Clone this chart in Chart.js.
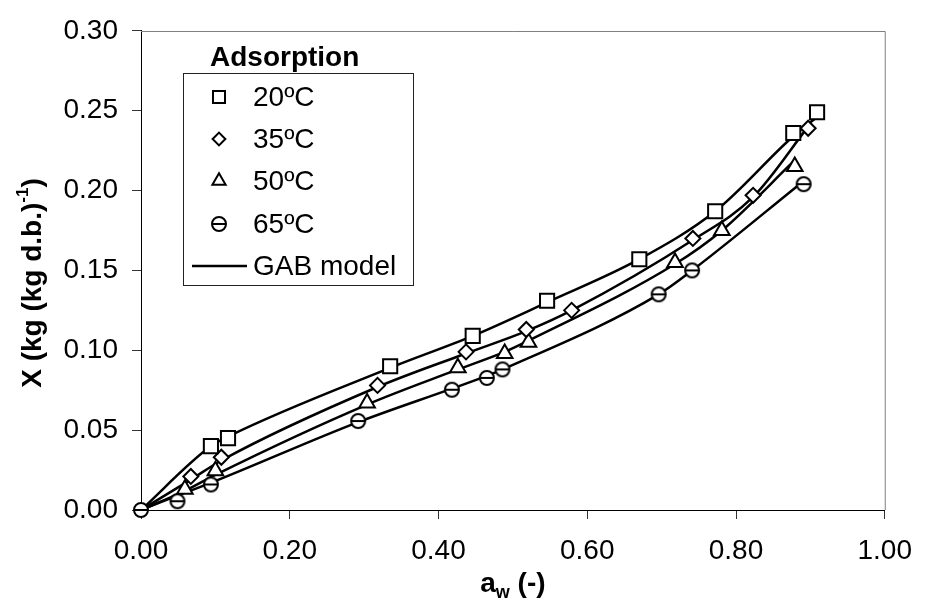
<!DOCTYPE html>
<html>
<head>
<meta charset="utf-8">
<script src="https://cdn.jsdelivr.net/npm/chart.js@4.4.1/dist/chart.umd.min.js"></script>
<style>
  body { margin: 0; background: #fff; }
  canvas { display: block; }
</style>
</head>
<body>
<canvas id="isoChart" width="927" height="607"></canvas>
<script>
// measured points (a_w, X)
var aw20 = [0.094, 0.117, 0.335, 0.446, 0.546, 0.670, 0.772, 0.877, 0.909];
var x20  = [0.040, 0.045, 0.090, 0.109, 0.131, 0.157, 0.187, 0.236, 0.249];
var aw35 = [0.067, 0.108, 0.318, 0.437, 0.518, 0.579, 0.742, 0.823, 0.897];
var x35  = [0.021, 0.033, 0.078, 0.099, 0.113, 0.125, 0.170, 0.197, 0.239];
var aw50 = [0.059, 0.100, 0.304, 0.426, 0.489, 0.521, 0.718, 0.781, 0.879];
var x50  = [0.013, 0.0245, 0.067, 0.089, 0.098, 0.105, 0.155, 0.175, 0.215];
var aw65 = [0, 0.049, 0.094, 0.292, 0.418, 0.465, 0.486, 0.696, 0.741, 0.891];
var x65  = [0, 0.0055, 0.016, 0.0557, 0.0753, 0.0827, 0.088, 0.135, 0.150, 0.204];

// GAB model curves
var gabAw20 = [0, 0.094, 0.117, 0.335, 0.446, 0.546, 0.670, 0.772, 0.877, 0.909];
var gabX20  = [0, 0.040, 0.046, 0.089, 0.109, 0.130, 0.157, 0.187, 0.234, 0.246];
var gabAw35 = [0, 0.067, 0.108, 0.318, 0.437, 0.518, 0.579, 0.742, 0.823, 0.897];
var gabX35  = [0, 0.019, 0.031, 0.077, 0.098, 0.112, 0.125, 0.169, 0.196, 0.240];
var gabAw50 = [0, 0.059, 0.100, 0.304, 0.426, 0.489, 0.521, 0.718, 0.781, 0.879];
var gabX50  = [0, 0.012, 0.022, 0.066, 0.088, 0.099, 0.106, 0.154, 0.175, 0.219];
var gabAw65 = [0, 0.049, 0.094, 0.292, 0.418, 0.465, 0.486, 0.696, 0.741, 0.891];
var gabX65  = [0, 0.009, 0.017, 0.055, 0.076, 0.084, 0.088, 0.135, 0.150, 0.206];

var seriesLabels = ['20ºC', '35ºC', '50ºC', '65ºC'];
var modelLabel = 'GAB model';
var legendTitle = 'Adsorption';
var xTicks = [0, 0.2, 0.4, 0.6, 0.8, 1.0];
var yTicks = [0, 0.05, 0.10, 0.15, 0.20, 0.25, 0.30];

var FONT = "'Liberation Sans', Arial, sans-serif";

function pairs(xs, ys) {
    var out = [];
    for (var i = 0; i < xs.length; i++) out.push({ x: xs[i], y: ys[i] });
    return out;
}

// circle marker with a small horizontal bar through it
function circleBar() {
    var c = document.createElement('canvas');
    c.width = 20; c.height = 20;
    var g = c.getContext('2d');
    g.fillStyle = '#fff';
    g.strokeStyle = '#000';
    g.lineWidth = 2;
    g.beginPath();
    g.arc(10, 10, 7, 0, Math.PI * 2);
    g.fill();
    g.stroke();
    g.beginPath();
    g.moveTo(4, 10);
    g.lineTo(16, 10);
    g.stroke();
    return c;
}
var circleImg = circleBar();

function markerSet(label, xs, ys, style, r) {
    return {
        label: label,
        data: pairs(xs, ys),
        showLine: false,
        clip: false,
        pointStyle: style,
        pointRadius: r,
        pointHoverRadius: r,
        pointBackgroundColor: '#fff',
        pointBorderColor: '#000',
        pointBorderWidth: 2,
        order: 1
    };
}
function modelSet(xs, ys) {
    return {
        label: modelLabel,
        data: pairs(xs, ys),
        showLine: true,
        pointRadius: 0,
        borderColor: '#000',
        borderWidth: 2.5,
        cubicInterpolationMode: 'monotone',
        fill: false,
        order: 2
    };
}

var markers = [
    markerSet(seriesLabels[0], aw20, x20, 'rect', 10),
    markerSet(seriesLabels[1], aw35, x35, 'rectRot', 7.5),
    markerSet(seriesLabels[2], aw50, x50, 'triangle', 9),
    markerSet(seriesLabels[3], aw65, x65, circleImg, 7)
];

// legend, borders and axis titles drawn by hand
var decor = {
    id: 'decor',
    afterDraw: function (chart) {
        var ctx = chart.ctx;
        var a = chart.chartArea;
        ctx.save();
        // top / right frame
        ctx.strokeStyle = '#808080';
        ctx.lineWidth = 1;
        ctx.beginPath();
        ctx.moveTo(a.left, Math.round(a.top) + 0.5);
        ctx.lineTo(a.right + 0.5, Math.round(a.top) + 0.5);
        ctx.lineTo(a.right + 0.5, a.bottom);
        ctx.stroke();

        // legend
        ctx.fillStyle = '#000';
        ctx.textBaseline = 'alphabetic';
        ctx.textAlign = 'left';
        ctx.font = 'bold 28px ' + FONT;
        ctx.fillText(legendTitle, 210, 66);
        ctx.strokeStyle = '#222';
        ctx.lineWidth = 1;
        ctx.fillStyle = '#fff';
        ctx.fillRect(183.5, 73.5, 230, 212);
        ctx.strokeRect(183.5, 73.5, 230, 212);

        ctx.font = '28px ' + FONT;
        ctx.textBaseline = 'middle';
        var rowY = [97, 139, 181, 224];
        for (var i = 0; i < markers.length; i++) {
            var ds = markers[i];
            ctx.fillStyle = '#fff';
            ctx.strokeStyle = '#000';
            ctx.lineWidth = 2;
            Chart.helpers.drawPoint(ctx, {
                pointStyle: ds.pointStyle,
                radius: ds.pointRadius * 0.85,
                borderWidth: 2,
                rotation: 0
            }, 219, rowY[i]);
            ctx.fillStyle = '#000';
            ctx.fillText(ds.label, 253, rowY[i] + 1);
        }
        ctx.strokeStyle = '#000';
        ctx.lineWidth = 2.5;
        ctx.beginPath();
        ctx.moveTo(192, 266);
        ctx.lineTo(247, 266);
        ctx.stroke();
        ctx.fillStyle = '#000';
        ctx.fillText(modelLabel, 253, 267);

        // x axis title: a_w (-)
        ctx.textBaseline = 'alphabetic';
        var big = 'bold 28px ' + FONT, small = 'bold 18px ' + FONT;
        ctx.font = big;
        var wA = ctx.measureText('a').width;
        var wR = ctx.measureText(' (-)').width;
        ctx.font = small;
        var wW = ctx.measureText('w').width;
        var cx = (a.left + a.right) / 2;
        var x0 = cx - (wA + wW + wR) / 2;
        var base = 592;
        ctx.font = big;
        ctx.fillText('a', x0, base);
        ctx.font = small;
        ctx.fillText('w', x0 + wA, base + 6);
        ctx.font = big;
        ctx.fillText(' (-)', x0 + wA + wW, base);

        // y axis title: X (kg (kg d.b.)^-1)
        ctx.translate(33, 283);
        ctx.rotate(-Math.PI / 2);
        var sm = 'bold 17px ' + FONT;
        var p1 = 'X (kg (kg d.b.)', p2 = '-1', p3 = ')';
        ctx.font = big;
        var w1 = ctx.measureText(p1).width, w3 = ctx.measureText(p3).width;
        ctx.font = sm;
        var w2 = ctx.measureText(p2).width;
        var sx = -(w1 + w2 + w3) / 2;
        ctx.textBaseline = 'middle';
        ctx.font = big;
        ctx.fillText(p1, sx, 0);
        ctx.font = sm;
        ctx.fillText(p2, sx + w1, -10);
        ctx.font = big;
        ctx.fillText(p3, sx + w1 + w2, 0);
        ctx.restore();
    }
};

function axis(min, max, ticks, isX) {
    return {
        type: 'linear',
        min: min,
        max: max,
        afterBuildTicks: function (s) {
            s.ticks = ticks.map(function (v) { return { value: v }; });
        },
        afterFit: function (s) {
            if (isX) s.height = 97; else s.width = 141;
        },
        border: { display: true, color: '#000', width: 1 },
        grid: {
            drawOnChartArea: false,
            drawTicks: true,
            tickLength: 9,
            tickColor: '#333',
            tickWidth: 1
        },
        ticks: {
            color: '#000',
            font: { family: FONT, size: 28 },
            padding: isX ? 15 : 14,
            maxRotation: 0,
            autoSkip: false,
            callback: function (v) { return Number(v).toFixed(2); }
        }
    };
}

new Chart(document.getElementById('isoChart').getContext('2d'), {
    type: 'scatter',
    data: {
        datasets: markers.concat([
            modelSet(gabAw20, gabX20),
            modelSet(gabAw35, gabX35),
            modelSet(gabAw50, gabX50),
            modelSet(gabAw65, gabX65)
        ])
    },
    options: {
        responsive: false,
        animation: false,
        devicePixelRatio: 1,
        layout: { padding: { left: 0, right: 37, top: 20, bottom: 0 } },
        plugins: {
            legend: { display: false },
            tooltip: { enabled: false }
        },
        scales: {
            x: axis(0, 1, xTicks, true),
            y: axis(0, 0.3, yTicks, false)
        }
    },
    plugins: [decor]
});
</script>
</body>
</html>
